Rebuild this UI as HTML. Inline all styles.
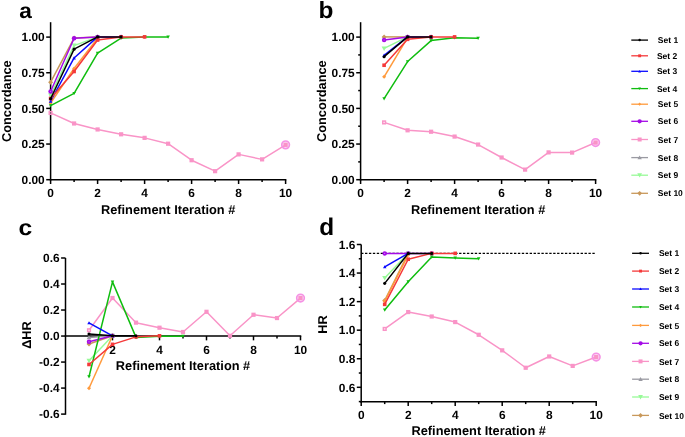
<!DOCTYPE html>
<html><head><meta charset="utf-8"><title>Refinement iterations</title>
<style>
html,body{margin:0;padding:0;background:#fff;}
body{width:685px;height:437px;overflow:hidden;}
svg{display:block;will-change:transform;font-family:"Liberation Sans",sans-serif;font-weight:bold;fill:#000;text-rendering:geometricPrecision;}
</style></head><body>
<svg width="685" height="437" viewBox="0 0 685 437">
<rect width="685" height="437" fill="#fff"/>
<line x1="50.60" y1="22.20" x2="50.60" y2="180.45" stroke="#000" stroke-width="1.5"/>
<line x1="49.85" y1="179.70" x2="286.35" y2="179.70" stroke="#000" stroke-width="1.5"/>
<line x1="46.20" y1="179.70" x2="50.60" y2="179.70" stroke="#000" stroke-width="1.5"/>
<text x="44.70" y="184.00" font-size="11.9" text-anchor="end" >0.00</text>
<line x1="46.20" y1="144.05" x2="50.60" y2="144.05" stroke="#000" stroke-width="1.5"/>
<text x="44.70" y="148.35" font-size="11.9" text-anchor="end" >0.25</text>
<line x1="46.20" y1="108.40" x2="50.60" y2="108.40" stroke="#000" stroke-width="1.5"/>
<text x="44.70" y="112.70" font-size="11.9" text-anchor="end" >0.50</text>
<line x1="46.20" y1="72.75" x2="50.60" y2="72.75" stroke="#000" stroke-width="1.5"/>
<text x="44.70" y="77.05" font-size="11.9" text-anchor="end" >0.75</text>
<line x1="46.20" y1="37.10" x2="50.60" y2="37.10" stroke="#000" stroke-width="1.5"/>
<text x="44.70" y="41.40" font-size="11.9" text-anchor="end" >1.00</text>
<line x1="50.60" y1="179.70" x2="50.60" y2="184.00" stroke="#000" stroke-width="1.5"/>
<text x="50.60" y="197.00" font-size="11.9" text-anchor="middle" >0</text>
<line x1="74.10" y1="179.70" x2="74.10" y2="182.10" stroke="#000" stroke-width="1.5"/>
<line x1="97.60" y1="179.70" x2="97.60" y2="184.00" stroke="#000" stroke-width="1.5"/>
<text x="97.60" y="197.00" font-size="11.9" text-anchor="middle" >2</text>
<line x1="121.10" y1="179.70" x2="121.10" y2="182.10" stroke="#000" stroke-width="1.5"/>
<line x1="144.60" y1="179.70" x2="144.60" y2="184.00" stroke="#000" stroke-width="1.5"/>
<text x="144.60" y="197.00" font-size="11.9" text-anchor="middle" >4</text>
<line x1="168.10" y1="179.70" x2="168.10" y2="182.10" stroke="#000" stroke-width="1.5"/>
<line x1="191.60" y1="179.70" x2="191.60" y2="184.00" stroke="#000" stroke-width="1.5"/>
<text x="191.60" y="197.00" font-size="11.9" text-anchor="middle" >6</text>
<line x1="215.10" y1="179.70" x2="215.10" y2="182.10" stroke="#000" stroke-width="1.5"/>
<line x1="238.60" y1="179.70" x2="238.60" y2="184.00" stroke="#000" stroke-width="1.5"/>
<text x="238.60" y="197.00" font-size="11.9" text-anchor="middle" >8</text>
<line x1="262.10" y1="179.70" x2="262.10" y2="182.10" stroke="#000" stroke-width="1.5"/>
<line x1="285.60" y1="179.70" x2="285.60" y2="184.00" stroke="#000" stroke-width="1.5"/>
<text x="285.60" y="197.00" font-size="11.9" text-anchor="middle" >10</text>
<polyline points="50.60,82.18 74.10,38.04 97.60,36.90" fill="none" stroke="#c8985a" stroke-width="1.5" stroke-linejoin="round"/><path d="M50.60 79.68L53.10 82.18L50.60 84.68L48.10 82.18Z" fill="#c8985a"/><path d="M74.10 35.54L76.60 38.04L74.10 40.54L71.60 38.04Z" fill="#c8985a"/><path d="M97.60 34.40L100.10 36.90L97.60 39.40L95.10 36.90Z" fill="#c8985a"/>
<polyline points="50.60,95.28 74.10,45.59 97.60,36.90" fill="none" stroke="#98fa98" stroke-width="1.5" stroke-linejoin="round"/><path d="M50.60 97.78L53.10 93.28L48.10 93.28Z" fill="#98fa98"/><path d="M74.10 48.09L76.60 43.59L71.60 43.59Z" fill="#98fa98"/><path d="M97.60 39.40L100.10 34.90L95.10 34.90Z" fill="#98fa98"/>
<polyline points="50.60,112.94 74.10,123.48 97.60,129.46 121.10,134.30 144.60,137.86 168.10,143.70 191.60,160.22 215.10,171.18 238.60,154.38 262.10,159.36 285.60,144.84" fill="none" stroke="#f994c7" stroke-width="1.5" stroke-linejoin="round"/><circle cx="285.60" cy="144.84" r="3.85" fill="#f592e4" fill-opacity="0.35" stroke="#f592e4" stroke-width="1.6"/><rect x="48.50" y="110.84" width="4.20" height="4.20" fill="#f994c7"/><rect x="50.00" y="112.34" width="1.2" height="1.2" fill="#444" fill-opacity="0.9"/><rect x="72.00" y="121.38" width="4.20" height="4.20" fill="#f994c7"/><rect x="95.50" y="127.36" width="4.20" height="4.20" fill="#f994c7"/><rect x="119.00" y="132.20" width="4.20" height="4.20" fill="#f994c7"/><rect x="142.50" y="135.76" width="4.20" height="4.20" fill="#f994c7"/><rect x="166.00" y="141.60" width="4.20" height="4.20" fill="#f994c7"/><rect x="189.50" y="158.12" width="4.20" height="4.20" fill="#f994c7"/><rect x="213.00" y="169.08" width="4.20" height="4.20" fill="#f994c7"/><rect x="236.50" y="152.28" width="4.20" height="4.20" fill="#f994c7"/><rect x="260.00" y="157.26" width="4.20" height="4.20" fill="#f994c7"/><rect x="283.50" y="142.74" width="4.20" height="4.20" fill="#f994c7"/>
<polyline points="50.60,91.44 74.10,38.32 97.60,36.90 121.10,36.90" fill="none" stroke="#a40ae6" stroke-width="1.5" stroke-linejoin="round"/><circle cx="50.60" cy="91.44" r="2.25" fill="#a40ae6"/><circle cx="50.60" cy="91.44" r="0.55" fill="#e0a8f8" fill-opacity="0.8"/><circle cx="74.10" cy="38.32" r="2.25" fill="#a40ae6"/><circle cx="97.60" cy="36.90" r="2.25" fill="#a40ae6"/><circle cx="121.10" cy="36.90" r="2.25" fill="#a40ae6"/>
<polyline points="50.60,102.97 74.10,68.51 97.60,38.32" fill="none" stroke="#ff9a3c" stroke-width="1.5" stroke-linejoin="round"/><path d="M50.60 100.97L52.60 102.97L50.60 104.97L48.60 102.97Z" fill="#ff9a3c"/><path d="M74.10 66.51L76.10 68.51L74.10 70.51L72.10 68.51Z" fill="#ff9a3c"/><path d="M97.60 36.32L99.60 38.32L97.60 40.32L95.60 38.32Z" fill="#ff9a3c"/>
<polyline points="50.60,105.61 74.10,93.29 97.60,53.13 121.10,38.04 144.60,36.90 168.10,36.90" fill="none" stroke="#0fbd0f" stroke-width="1.5" stroke-linejoin="round"/><path d="M50.60 107.36L52.35 104.21L48.85 104.21Z" fill="#0fbd0f"/><path d="M74.10 95.04L75.85 91.89L72.35 91.89Z" fill="#0fbd0f"/><path d="M97.60 54.88L99.35 51.73L95.85 51.73Z" fill="#0fbd0f"/><path d="M121.10 39.79L122.85 36.64L119.35 36.64Z" fill="#0fbd0f"/><path d="M144.60 38.65L146.35 35.50L142.85 35.50Z" fill="#0fbd0f"/><path d="M168.10 38.65L169.85 35.50L166.35 35.50Z" fill="#0fbd0f"/>
<polyline points="50.60,101.26 74.10,57.98 97.60,36.90" fill="none" stroke="#0a0aff" stroke-width="1.5" stroke-linejoin="round"/><path d="M50.60 99.51L52.35 102.66L48.85 102.66Z" fill="#0a0aff"/><path d="M74.10 56.23L75.85 59.38L72.35 59.38Z" fill="#0a0aff"/><path d="M97.60 35.15L99.35 38.30L95.85 38.30Z" fill="#0a0aff"/>
<polyline points="50.60,98.56 74.10,71.50 97.60,40.03 121.10,36.90 144.60,36.90" fill="none" stroke="#f5393a" stroke-width="1.5" stroke-linejoin="round"/><rect x="48.80" y="96.76" width="3.60" height="3.60" fill="#f5393a"/><rect x="72.30" y="69.70" width="3.60" height="3.60" fill="#f5393a"/><rect x="95.80" y="38.23" width="3.60" height="3.60" fill="#f5393a"/><rect x="119.30" y="35.10" width="3.60" height="3.60" fill="#f5393a"/><rect x="142.80" y="35.10" width="3.60" height="3.60" fill="#f5393a"/>
<polyline points="50.60,98.70 74.10,49.15 97.60,36.90 121.10,36.90" fill="none" stroke="#000000" stroke-width="1.5" stroke-linejoin="round"/><circle cx="50.60" cy="98.70" r="1.55" fill="#000000"/><circle cx="74.10" cy="49.15" r="1.55" fill="#000000"/><circle cx="97.60" cy="36.90" r="1.55" fill="#000000"/><circle cx="121.10" cy="36.90" r="1.55" fill="#000000"/>
<text x="168.10" y="213.60" font-size="12.8" text-anchor="middle" >Refinement Iteration #</text>
<text transform="translate(10.80 101.20) rotate(-90)" font-size="12.8" text-anchor="middle" >Concordance</text>
<text transform="translate(19.20 18.00) scale(1.03 0.98)" font-size="22" text-anchor="start">a</text>
<line x1="360.60" y1="22.20" x2="360.60" y2="180.45" stroke="#000" stroke-width="1.5"/>
<line x1="359.85" y1="179.70" x2="596.35" y2="179.70" stroke="#000" stroke-width="1.5"/>
<line x1="356.20" y1="179.70" x2="360.60" y2="179.70" stroke="#000" stroke-width="1.5"/>
<text x="354.70" y="184.00" font-size="11.9" text-anchor="end" >0.00</text>
<line x1="356.20" y1="144.05" x2="360.60" y2="144.05" stroke="#000" stroke-width="1.5"/>
<text x="354.70" y="148.35" font-size="11.9" text-anchor="end" >0.25</text>
<line x1="356.20" y1="108.40" x2="360.60" y2="108.40" stroke="#000" stroke-width="1.5"/>
<text x="354.70" y="112.70" font-size="11.9" text-anchor="end" >0.50</text>
<line x1="356.20" y1="72.75" x2="360.60" y2="72.75" stroke="#000" stroke-width="1.5"/>
<text x="354.70" y="77.05" font-size="11.9" text-anchor="end" >0.75</text>
<line x1="356.20" y1="37.10" x2="360.60" y2="37.10" stroke="#000" stroke-width="1.5"/>
<text x="354.70" y="41.40" font-size="11.9" text-anchor="end" >1.00</text>
<line x1="358.20" y1="161.88" x2="360.60" y2="161.88" stroke="#000" stroke-width="1.5"/>
<line x1="358.20" y1="126.22" x2="360.60" y2="126.22" stroke="#000" stroke-width="1.5"/>
<line x1="358.20" y1="90.57" x2="360.60" y2="90.57" stroke="#000" stroke-width="1.5"/>
<line x1="358.20" y1="54.92" x2="360.60" y2="54.92" stroke="#000" stroke-width="1.5"/>
<line x1="360.60" y1="179.70" x2="360.60" y2="184.00" stroke="#000" stroke-width="1.5"/>
<text x="360.60" y="197.00" font-size="11.9" text-anchor="middle" >0</text>
<line x1="384.10" y1="179.70" x2="384.10" y2="182.10" stroke="#000" stroke-width="1.5"/>
<line x1="407.60" y1="179.70" x2="407.60" y2="184.00" stroke="#000" stroke-width="1.5"/>
<text x="407.60" y="197.00" font-size="11.9" text-anchor="middle" >2</text>
<line x1="431.10" y1="179.70" x2="431.10" y2="182.10" stroke="#000" stroke-width="1.5"/>
<line x1="454.60" y1="179.70" x2="454.60" y2="184.00" stroke="#000" stroke-width="1.5"/>
<text x="454.60" y="197.00" font-size="11.9" text-anchor="middle" >4</text>
<line x1="478.10" y1="179.70" x2="478.10" y2="182.10" stroke="#000" stroke-width="1.5"/>
<line x1="501.60" y1="179.70" x2="501.60" y2="184.00" stroke="#000" stroke-width="1.5"/>
<text x="501.60" y="197.00" font-size="11.9" text-anchor="middle" >6</text>
<line x1="525.10" y1="179.70" x2="525.10" y2="182.10" stroke="#000" stroke-width="1.5"/>
<line x1="548.60" y1="179.70" x2="548.60" y2="184.00" stroke="#000" stroke-width="1.5"/>
<text x="548.60" y="197.00" font-size="11.9" text-anchor="middle" >8</text>
<line x1="572.10" y1="179.70" x2="572.10" y2="182.10" stroke="#000" stroke-width="1.5"/>
<line x1="595.60" y1="179.70" x2="595.60" y2="184.00" stroke="#000" stroke-width="1.5"/>
<text x="595.60" y="197.00" font-size="11.9" text-anchor="middle" >10</text>
<polyline points="384.10,36.90 407.60,36.90" fill="none" stroke="#c8985a" stroke-width="1.5" stroke-linejoin="round"/><path d="M384.10 34.40L386.60 36.90L384.10 39.40L381.60 36.90Z" fill="#c8985a"/><path d="M407.60 34.40L410.10 36.90L407.60 39.40L405.10 36.90Z" fill="#c8985a"/>
<polyline points="384.10,48.43 407.60,36.90" fill="none" stroke="#98fa98" stroke-width="1.5" stroke-linejoin="round"/><path d="M384.10 50.93L386.60 46.43L381.60 46.43Z" fill="#98fa98"/><path d="M407.60 39.40L410.10 34.90L405.10 34.90Z" fill="#98fa98"/>
<polyline points="384.10,122.41 407.60,130.31 431.10,131.74 454.60,136.58 478.10,144.55 501.60,157.51 525.10,169.62 548.60,152.39 572.10,152.60 595.60,142.56" fill="none" stroke="#f994c7" stroke-width="1.5" stroke-linejoin="round"/><circle cx="595.60" cy="142.56" r="3.85" fill="#f592e4" fill-opacity="0.35" stroke="#f592e4" stroke-width="1.6"/><rect x="382.00" y="120.31" width="4.20" height="4.20" fill="#f994c7"/><rect x="383.50" y="121.81" width="1.2" height="1.2" fill="#fff" fill-opacity="0.9"/><rect x="405.50" y="128.21" width="4.20" height="4.20" fill="#f994c7"/><rect x="429.00" y="129.64" width="4.20" height="4.20" fill="#f994c7"/><rect x="452.50" y="134.48" width="4.20" height="4.20" fill="#f994c7"/><rect x="476.00" y="142.45" width="4.20" height="4.20" fill="#f994c7"/><rect x="499.50" y="155.41" width="4.20" height="4.20" fill="#f994c7"/><rect x="523.00" y="167.52" width="4.20" height="4.20" fill="#f994c7"/><rect x="546.50" y="150.29" width="4.20" height="4.20" fill="#f994c7"/><rect x="570.00" y="150.50" width="4.20" height="4.20" fill="#f994c7"/><rect x="593.50" y="140.46" width="4.20" height="4.20" fill="#f994c7"/>
<polyline points="384.10,40.03 407.60,36.90 431.10,36.90" fill="none" stroke="#a40ae6" stroke-width="1.5" stroke-linejoin="round"/><circle cx="384.10" cy="40.03" r="2.25" fill="#a40ae6"/><circle cx="384.10" cy="40.03" r="0.55" fill="#e0a8f8" fill-opacity="0.8"/><circle cx="407.60" cy="36.90" r="2.25" fill="#a40ae6"/><circle cx="431.10" cy="36.90" r="2.25" fill="#a40ae6"/>
<polyline points="384.10,76.77 407.60,37.61" fill="none" stroke="#ff9a3c" stroke-width="1.5" stroke-linejoin="round"/><path d="M384.10 74.77L386.10 76.77L384.10 78.77L382.10 76.77Z" fill="#ff9a3c"/><path d="M407.60 35.61L409.60 37.61L407.60 39.61L405.60 37.61Z" fill="#ff9a3c"/>
<polyline points="384.10,98.70 407.60,61.54 431.10,40.60 454.60,37.75 478.10,38.18" fill="none" stroke="#0fbd0f" stroke-width="1.5" stroke-linejoin="round"/><path d="M384.10 100.45L385.85 97.30L382.35 97.30Z" fill="#0fbd0f"/><path d="M407.60 63.29L409.35 60.14L405.85 60.14Z" fill="#0fbd0f"/><path d="M431.10 42.35L432.85 39.20L429.35 39.20Z" fill="#0fbd0f"/><path d="M454.60 39.50L456.35 36.35L452.85 36.35Z" fill="#0fbd0f"/><path d="M478.10 39.93L479.85 36.78L476.35 36.78Z" fill="#0fbd0f"/>
<polyline points="384.10,55.27 407.60,36.90" fill="none" stroke="#0a0aff" stroke-width="1.5" stroke-linejoin="round"/><path d="M384.10 53.52L385.85 56.67L382.35 56.67Z" fill="#0a0aff"/><path d="M407.60 35.15L409.35 38.30L405.85 38.30Z" fill="#0a0aff"/>
<polyline points="384.10,65.24 407.60,39.32 431.10,36.90 454.60,36.90" fill="none" stroke="#f5393a" stroke-width="1.5" stroke-linejoin="round"/><rect x="382.30" y="63.44" width="3.60" height="3.60" fill="#f5393a"/><rect x="405.80" y="37.52" width="3.60" height="3.60" fill="#f5393a"/><rect x="429.30" y="35.10" width="3.60" height="3.60" fill="#f5393a"/><rect x="452.80" y="35.10" width="3.60" height="3.60" fill="#f5393a"/>
<polyline points="384.10,56.69 407.60,36.90 431.10,36.90" fill="none" stroke="#000000" stroke-width="1.5" stroke-linejoin="round"/><circle cx="384.10" cy="56.69" r="1.55" fill="#000000"/><circle cx="407.60" cy="36.90" r="1.55" fill="#000000"/><circle cx="431.10" cy="36.90" r="1.55" fill="#000000"/>
<text x="478.10" y="213.60" font-size="12.8" text-anchor="middle" >Refinement Iteration #</text>
<text transform="translate(326.10 101.20) rotate(-90)" font-size="12.8" text-anchor="middle" >Concordance</text>
<text transform="translate(318.40 18.00) scale(1.11 1.064)" font-size="22" text-anchor="start">b</text>
<line x1="65.50" y1="258.00" x2="65.50" y2="414.71" stroke="#000" stroke-width="1.5"/>
<line x1="64.75" y1="336.05" x2="301.25" y2="336.05" stroke="#000" stroke-width="1.5"/>
<line x1="61.10" y1="414.11" x2="65.50" y2="414.11" stroke="#000" stroke-width="1.5"/>
<text x="59.60" y="418.41" font-size="11.9" text-anchor="end" >-0.6</text>
<line x1="61.10" y1="388.09" x2="65.50" y2="388.09" stroke="#000" stroke-width="1.5"/>
<text x="59.60" y="392.39" font-size="11.9" text-anchor="end" >-0.4</text>
<line x1="61.10" y1="362.07" x2="65.50" y2="362.07" stroke="#000" stroke-width="1.5"/>
<text x="59.60" y="366.37" font-size="11.9" text-anchor="end" >-0.2</text>
<line x1="61.10" y1="336.05" x2="65.50" y2="336.05" stroke="#000" stroke-width="1.5"/>
<text x="59.60" y="340.35" font-size="11.9" text-anchor="end" >0.0</text>
<line x1="61.10" y1="310.03" x2="65.50" y2="310.03" stroke="#000" stroke-width="1.5"/>
<text x="59.60" y="314.33" font-size="11.9" text-anchor="end" >0.2</text>
<line x1="61.10" y1="284.01" x2="65.50" y2="284.01" stroke="#000" stroke-width="1.5"/>
<text x="59.60" y="288.31" font-size="11.9" text-anchor="end" >0.4</text>
<line x1="61.10" y1="257.99" x2="65.50" y2="257.99" stroke="#000" stroke-width="1.5"/>
<text x="59.60" y="262.29" font-size="11.9" text-anchor="end" >0.6</text>
<line x1="89.00" y1="336.05" x2="89.00" y2="338.45" stroke="#000" stroke-width="1.5"/>
<line x1="112.50" y1="336.05" x2="112.50" y2="340.35" stroke="#000" stroke-width="1.5"/>
<text x="112.50" y="354.00" font-size="11.9" text-anchor="middle" >2</text>
<line x1="136.00" y1="336.05" x2="136.00" y2="338.45" stroke="#000" stroke-width="1.5"/>
<line x1="159.50" y1="336.05" x2="159.50" y2="340.35" stroke="#000" stroke-width="1.5"/>
<text x="159.50" y="354.00" font-size="11.9" text-anchor="middle" >4</text>
<line x1="183.00" y1="336.05" x2="183.00" y2="338.45" stroke="#000" stroke-width="1.5"/>
<line x1="206.50" y1="336.05" x2="206.50" y2="340.35" stroke="#000" stroke-width="1.5"/>
<text x="206.50" y="354.00" font-size="11.9" text-anchor="middle" >6</text>
<line x1="230.00" y1="336.05" x2="230.00" y2="338.45" stroke="#000" stroke-width="1.5"/>
<line x1="253.50" y1="336.05" x2="253.50" y2="340.35" stroke="#000" stroke-width="1.5"/>
<text x="253.50" y="354.00" font-size="11.9" text-anchor="middle" >8</text>
<line x1="277.00" y1="336.05" x2="277.00" y2="338.45" stroke="#000" stroke-width="1.5"/>
<line x1="300.50" y1="336.05" x2="300.50" y2="340.35" stroke="#000" stroke-width="1.5"/>
<text x="300.50" y="354.00" font-size="11.9" text-anchor="middle" >10</text>
<polyline points="89.00,343.95 112.50,335.80" fill="none" stroke="#c8985a" stroke-width="1.5" stroke-linejoin="round"/><path d="M89.00 341.45L91.50 343.95L89.00 346.45L86.50 343.95Z" fill="#c8985a"/><path d="M112.50 333.30L115.00 335.80L112.50 338.30L110.00 335.80Z" fill="#c8985a"/>
<polyline points="89.00,360.79 112.50,335.80" fill="none" stroke="#98fa98" stroke-width="1.5" stroke-linejoin="round"/><path d="M89.00 363.29L91.50 358.79L86.50 358.79Z" fill="#98fa98"/><path d="M112.50 338.30L115.00 333.80L110.00 333.80Z" fill="#98fa98"/>
<polyline points="89.00,337.38 112.50,335.80" fill="none" stroke="#9a9aa2" stroke-width="1.5" stroke-linejoin="round"/><path d="M89.00 335.08L91.30 339.22L86.70 339.22Z" fill="#9a9aa2"/><path d="M112.50 333.50L114.80 337.64L110.20 337.64Z" fill="#9a9aa2"/>
<polyline points="89.00,330.28 112.50,297.99 136.00,322.65 159.50,327.70 183.00,331.99 206.50,311.80 230.00,335.80 253.50,314.76 277.00,318.05 300.50,298.06" fill="none" stroke="#f994c7" stroke-width="1.5" stroke-linejoin="round"/><circle cx="300.50" cy="298.06" r="3.85" fill="#f592e4" fill-opacity="0.35" stroke="#f592e4" stroke-width="1.6"/><rect x="86.90" y="328.18" width="4.20" height="4.20" fill="#f994c7"/><rect x="88.40" y="329.68" width="1.2" height="1.2" fill="#fff" fill-opacity="0.9"/><rect x="110.40" y="295.89" width="4.20" height="4.20" fill="#f994c7"/><rect x="133.90" y="320.55" width="4.20" height="4.20" fill="#f994c7"/><rect x="157.40" y="325.60" width="4.20" height="4.20" fill="#f994c7"/><rect x="180.90" y="329.89" width="4.20" height="4.20" fill="#f994c7"/><rect x="204.40" y="309.70" width="4.20" height="4.20" fill="#f994c7"/><rect x="227.90" y="333.70" width="4.20" height="4.20" fill="#f994c7"/><rect x="251.40" y="312.66" width="4.20" height="4.20" fill="#f994c7"/><rect x="274.90" y="315.95" width="4.20" height="4.20" fill="#f994c7"/><rect x="298.40" y="295.96" width="4.20" height="4.20" fill="#f994c7"/>
<polyline points="89.00,341.85 112.50,335.80" fill="none" stroke="#a40ae6" stroke-width="1.5" stroke-linejoin="round"/><circle cx="89.00" cy="341.85" r="2.25" fill="#a40ae6"/><circle cx="89.00" cy="341.85" r="0.55" fill="#e0a8f8" fill-opacity="0.8"/><circle cx="112.50" cy="335.80" r="2.25" fill="#a40ae6"/>
<polyline points="89.00,388.27 112.50,335.80" fill="none" stroke="#ff9a3c" stroke-width="1.5" stroke-linejoin="round"/><path d="M89.00 386.27L91.00 388.27L89.00 390.27L87.00 388.27Z" fill="#ff9a3c"/><path d="M112.50 333.80L114.50 335.80L112.50 337.80L110.50 335.80Z" fill="#ff9a3c"/>
<polyline points="89.00,376.70 112.50,281.88 136.00,337.38 159.50,336.33 183.00,336.19" fill="none" stroke="#0fbd0f" stroke-width="1.5" stroke-linejoin="round"/><path d="M89.00 378.45L90.75 375.30L87.25 375.30Z" fill="#0fbd0f"/><path d="M112.50 283.63L114.25 280.49L110.75 280.49Z" fill="#0fbd0f"/><path d="M136.00 339.13L137.75 335.98L134.25 335.98Z" fill="#0fbd0f"/><path d="M159.50 338.08L161.25 334.93L157.75 334.93Z" fill="#0fbd0f"/><path d="M183.00 337.94L184.75 334.79L181.25 334.79Z" fill="#0fbd0f"/>
<polyline points="89.00,322.91 112.50,335.80" fill="none" stroke="#0a0aff" stroke-width="1.5" stroke-linejoin="round"/><path d="M89.00 321.16L90.75 324.31L87.25 324.31Z" fill="#0a0aff"/><path d="M112.50 334.05L114.25 337.20L110.75 337.20Z" fill="#0a0aff"/>
<polyline points="89.00,364.47 112.50,344.35 136.00,336.85 159.50,335.80" fill="none" stroke="#f5393a" stroke-width="1.5" stroke-linejoin="round"/><rect x="87.20" y="362.67" width="3.60" height="3.60" fill="#f5393a"/><rect x="110.70" y="342.55" width="3.60" height="3.60" fill="#f5393a"/><rect x="134.20" y="335.05" width="3.60" height="3.60" fill="#f5393a"/><rect x="157.70" y="334.00" width="3.60" height="3.60" fill="#f5393a"/>
<polyline points="89.00,333.96 112.50,335.80 136.00,335.80" fill="none" stroke="#000000" stroke-width="1.5" stroke-linejoin="round"/><circle cx="89.00" cy="333.96" r="1.55" fill="#000000"/><circle cx="112.50" cy="335.80" r="1.55" fill="#000000"/><circle cx="136.00" cy="335.80" r="1.55" fill="#000000"/>
<text x="183.00" y="370.00" font-size="12.8" text-anchor="middle" >Refinement Iteration #</text>
<text transform="translate(31.00 335.00) rotate(-90)" font-size="12.8" text-anchor="middle" >ΔHR</text>
<text transform="translate(18.50 235.00) scale(1.12 1.0)" font-size="22" text-anchor="start">c</text>
<line x1="361.20" y1="253.38" x2="596.20" y2="253.38" stroke="#000" stroke-width="1.25" stroke-dasharray="2.35 1.57" stroke-dashoffset="0.1"/>
<line x1="361.20" y1="244.50" x2="361.20" y2="402.45" stroke="#000" stroke-width="1.5"/>
<line x1="360.45" y1="401.70" x2="596.95" y2="401.70" stroke="#000" stroke-width="1.5"/>
<line x1="356.80" y1="387.30" x2="361.20" y2="387.30" stroke="#000" stroke-width="1.5"/>
<text x="355.30" y="391.60" font-size="11.9" text-anchor="end" >0.6</text>
<line x1="356.80" y1="358.74" x2="361.20" y2="358.74" stroke="#000" stroke-width="1.5"/>
<text x="355.30" y="363.04" font-size="11.9" text-anchor="end" >0.8</text>
<line x1="356.80" y1="330.18" x2="361.20" y2="330.18" stroke="#000" stroke-width="1.5"/>
<text x="355.30" y="334.48" font-size="11.9" text-anchor="end" >1.0</text>
<line x1="356.80" y1="301.62" x2="361.20" y2="301.62" stroke="#000" stroke-width="1.5"/>
<text x="355.30" y="305.92" font-size="11.9" text-anchor="end" >1.2</text>
<line x1="356.80" y1="273.06" x2="361.20" y2="273.06" stroke="#000" stroke-width="1.5"/>
<text x="355.30" y="277.36" font-size="11.9" text-anchor="end" >1.4</text>
<line x1="356.80" y1="244.50" x2="361.20" y2="244.50" stroke="#000" stroke-width="1.5"/>
<text x="355.30" y="248.80" font-size="11.9" text-anchor="end" >1.6</text>
<line x1="358.80" y1="401.58" x2="361.20" y2="401.58" stroke="#000" stroke-width="1.5"/>
<line x1="358.80" y1="373.02" x2="361.20" y2="373.02" stroke="#000" stroke-width="1.5"/>
<line x1="358.80" y1="344.46" x2="361.20" y2="344.46" stroke="#000" stroke-width="1.5"/>
<line x1="358.80" y1="315.90" x2="361.20" y2="315.90" stroke="#000" stroke-width="1.5"/>
<line x1="358.80" y1="287.34" x2="361.20" y2="287.34" stroke="#000" stroke-width="1.5"/>
<line x1="358.80" y1="258.78" x2="361.20" y2="258.78" stroke="#000" stroke-width="1.5"/>
<line x1="361.20" y1="401.70" x2="361.20" y2="406.00" stroke="#000" stroke-width="1.5"/>
<text x="361.20" y="419.00" font-size="11.9" text-anchor="middle" >0</text>
<line x1="384.70" y1="401.70" x2="384.70" y2="404.10" stroke="#000" stroke-width="1.5"/>
<line x1="408.20" y1="401.70" x2="408.20" y2="406.00" stroke="#000" stroke-width="1.5"/>
<text x="408.20" y="419.00" font-size="11.9" text-anchor="middle" >2</text>
<line x1="431.70" y1="401.70" x2="431.70" y2="404.10" stroke="#000" stroke-width="1.5"/>
<line x1="455.20" y1="401.70" x2="455.20" y2="406.00" stroke="#000" stroke-width="1.5"/>
<text x="455.20" y="419.00" font-size="11.9" text-anchor="middle" >4</text>
<line x1="478.70" y1="401.70" x2="478.70" y2="404.10" stroke="#000" stroke-width="1.5"/>
<line x1="502.20" y1="401.70" x2="502.20" y2="406.00" stroke="#000" stroke-width="1.5"/>
<text x="502.20" y="419.00" font-size="11.9" text-anchor="middle" >6</text>
<line x1="525.70" y1="401.70" x2="525.70" y2="404.10" stroke="#000" stroke-width="1.5"/>
<line x1="549.20" y1="401.70" x2="549.20" y2="406.00" stroke="#000" stroke-width="1.5"/>
<text x="549.20" y="419.00" font-size="11.9" text-anchor="middle" >8</text>
<line x1="572.70" y1="401.70" x2="572.70" y2="404.10" stroke="#000" stroke-width="1.5"/>
<line x1="596.20" y1="401.70" x2="596.20" y2="406.00" stroke="#000" stroke-width="1.5"/>
<text x="596.20" y="419.00" font-size="11.9" text-anchor="middle" >10</text>
<polyline points="384.70,300.51 408.20,253.38" fill="none" stroke="#c8985a" stroke-width="1.5" stroke-linejoin="round"/><path d="M384.70 298.01L387.20 300.51L384.70 303.01L382.20 300.51Z" fill="#c8985a"/><path d="M408.20 250.88L410.70 253.38L408.20 255.88L405.70 253.38Z" fill="#c8985a"/>
<polyline points="384.70,277.94 408.20,253.38" fill="none" stroke="#98fa98" stroke-width="1.5" stroke-linejoin="round"/><path d="M384.70 280.44L387.20 275.94L382.20 275.94Z" fill="#98fa98"/><path d="M408.20 255.88L410.70 251.38L405.70 251.38Z" fill="#98fa98"/>
<polyline points="384.70,328.92 408.20,312.07 431.70,316.50 455.20,322.07 478.70,334.78 502.20,350.34 525.70,367.76 549.20,356.48 572.70,365.91 596.20,357.05" fill="none" stroke="#f994c7" stroke-width="1.5" stroke-linejoin="round"/><circle cx="596.20" cy="357.05" r="3.85" fill="#f592e4" fill-opacity="0.35" stroke="#f592e4" stroke-width="1.6"/><rect x="382.60" y="326.82" width="4.20" height="4.20" fill="#f994c7"/><rect x="384.10" y="328.32" width="1.2" height="1.2" fill="#fff" fill-opacity="0.9"/><rect x="406.10" y="309.97" width="4.20" height="4.20" fill="#f994c7"/><rect x="429.60" y="314.40" width="4.20" height="4.20" fill="#f994c7"/><rect x="453.10" y="319.97" width="4.20" height="4.20" fill="#f994c7"/><rect x="476.60" y="332.68" width="4.20" height="4.20" fill="#f994c7"/><rect x="500.10" y="348.24" width="4.20" height="4.20" fill="#f994c7"/><rect x="523.60" y="365.66" width="4.20" height="4.20" fill="#f994c7"/><rect x="547.10" y="354.38" width="4.20" height="4.20" fill="#f994c7"/><rect x="570.60" y="363.81" width="4.20" height="4.20" fill="#f994c7"/><rect x="594.10" y="354.95" width="4.20" height="4.20" fill="#f994c7"/>
<polyline points="384.70,253.38 408.20,253.38 431.70,253.38" fill="none" stroke="#a40ae6" stroke-width="1.5" stroke-linejoin="round"/><circle cx="384.70" cy="253.38" r="2.25" fill="#a40ae6"/><circle cx="384.70" cy="253.38" r="0.55" fill="#e0a8f8" fill-opacity="0.8"/><circle cx="408.20" cy="253.38" r="2.25" fill="#a40ae6"/><circle cx="431.70" cy="253.38" r="2.25" fill="#a40ae6"/>
<polyline points="384.70,301.22 408.20,254.81" fill="none" stroke="#ff9a3c" stroke-width="1.5" stroke-linejoin="round"/><path d="M384.70 299.22L386.70 301.22L384.70 303.22L382.70 301.22Z" fill="#ff9a3c"/><path d="M408.20 252.81L410.20 254.81L408.20 256.81L406.20 254.81Z" fill="#ff9a3c"/>
<polyline points="384.70,309.93 408.20,281.66 431.70,256.95 455.20,257.95 478.70,258.67" fill="none" stroke="#0fbd0f" stroke-width="1.5" stroke-linejoin="round"/><path d="M384.70 311.68L386.45 308.53L382.95 308.53Z" fill="#0fbd0f"/><path d="M408.20 283.41L409.95 280.26L406.45 280.26Z" fill="#0fbd0f"/><path d="M431.70 258.70L433.45 255.55L429.95 255.55Z" fill="#0fbd0f"/><path d="M455.20 259.70L456.95 256.55L453.45 256.55Z" fill="#0fbd0f"/><path d="M478.70 260.42L480.45 257.27L476.95 257.27Z" fill="#0fbd0f"/>
<polyline points="384.70,266.95 408.20,253.38" fill="none" stroke="#0a0aff" stroke-width="1.5" stroke-linejoin="round"/><path d="M384.70 265.20L386.45 268.35L382.95 268.35Z" fill="#0a0aff"/><path d="M408.20 251.63L409.95 254.78L406.45 254.78Z" fill="#0a0aff"/>
<polyline points="384.70,304.36 408.20,259.24 431.70,253.38 455.20,253.38" fill="none" stroke="#f5393a" stroke-width="1.5" stroke-linejoin="round"/><rect x="382.90" y="302.56" width="3.60" height="3.60" fill="#f5393a"/><rect x="406.40" y="257.44" width="3.60" height="3.60" fill="#f5393a"/><rect x="429.90" y="251.58" width="3.60" height="3.60" fill="#f5393a"/><rect x="453.40" y="251.58" width="3.60" height="3.60" fill="#f5393a"/>
<polyline points="384.70,283.37 408.20,253.38 431.70,253.38" fill="none" stroke="#000000" stroke-width="1.5" stroke-linejoin="round"/><circle cx="384.70" cy="283.37" r="1.55" fill="#000000"/><circle cx="408.20" cy="253.38" r="1.55" fill="#000000"/><circle cx="431.70" cy="253.38" r="1.55" fill="#000000"/>
<text x="478.70" y="435.00" font-size="12.8" text-anchor="middle" >Refinement Iteration #</text>
<text transform="translate(327.00 324.50) rotate(-90)" font-size="12.8" text-anchor="middle" >HR</text>
<text transform="translate(319.35 235.30) scale(1.11 1.093)" font-size="22" text-anchor="start">d</text>
<line x1="631.3" y1="40.10" x2="648.0" y2="40.10" stroke="#000000" stroke-width="1.3"/>
<circle cx="639.65" cy="40.10" r="1.24" fill="#000000"/>
<text x="657.80" y="43.20" font-size="8.5" text-anchor="start" >Set 1</text>
<line x1="631.3" y1="55.80" x2="648.0" y2="55.80" stroke="#f5393a" stroke-width="1.3"/>
<rect x="638.21" y="54.36" width="2.88" height="2.88" fill="#f5393a"/>
<text x="656.90" y="58.90" font-size="8.5" text-anchor="start" >Set 2</text>
<line x1="631.3" y1="71.30" x2="648.0" y2="71.30" stroke="#0a0aff" stroke-width="1.3"/>
<path d="M639.65 69.90L641.05 72.42L638.25 72.42Z" fill="#0a0aff"/>
<text x="656.90" y="74.40" font-size="8.5" text-anchor="start" >Set 3</text>
<line x1="631.3" y1="88.60" x2="648.0" y2="88.60" stroke="#0fbd0f" stroke-width="1.3"/>
<path d="M639.65 90.00L641.05 87.48L638.25 87.48Z" fill="#0fbd0f"/>
<text x="656.90" y="91.70" font-size="8.5" text-anchor="start" >Set 4</text>
<line x1="631.3" y1="104.20" x2="648.0" y2="104.20" stroke="#ff9a3c" stroke-width="1.3"/>
<path d="M639.65 102.60L641.25 104.20L639.65 105.80L638.05 104.20Z" fill="#ff9a3c"/>
<text x="657.80" y="107.30" font-size="8.5" text-anchor="start" >Set 5</text>
<line x1="631.3" y1="121.30" x2="648.0" y2="121.30" stroke="#a40ae6" stroke-width="1.3"/>
<circle cx="639.65" cy="121.30" r="2.14" fill="#a40ae6"/>
<text x="657.80" y="124.40" font-size="8.5" text-anchor="start" >Set 6</text>
<line x1="631.3" y1="139.50" x2="648.0" y2="139.50" stroke="#f994c7" stroke-width="1.3"/>
<rect x="637.65" y="137.50" width="3.99" height="3.99" fill="#f994c7"/>
<text x="657.80" y="142.60" font-size="8.5" text-anchor="start" >Set 7</text>
<line x1="631.3" y1="157.60" x2="648.0" y2="157.60" stroke="#9a9aa2" stroke-width="1.3"/>
<path d="M639.65 155.41L641.83 159.35L637.47 159.35Z" fill="#9a9aa2"/>
<text x="657.80" y="160.70" font-size="8.5" text-anchor="start" >Set 8</text>
<line x1="631.3" y1="175.20" x2="648.0" y2="175.20" stroke="#98fa98" stroke-width="1.3"/>
<path d="M639.65 177.57L642.02 173.30L637.27 173.30Z" fill="#98fa98"/>
<text x="657.80" y="178.30" font-size="8.5" text-anchor="start" >Set 9</text>
<line x1="631.3" y1="193.30" x2="648.0" y2="193.30" stroke="#c8985a" stroke-width="1.3"/>
<path d="M639.65 190.93L642.02 193.30L639.65 195.68L637.27 193.30Z" fill="#c8985a"/>
<text x="657.80" y="196.40" font-size="8.5" text-anchor="start" >Set 10</text>
<line x1="632.1" y1="253.30" x2="649.0" y2="253.30" stroke="#000000" stroke-width="1.3"/>
<circle cx="640.55" cy="253.30" r="1.24" fill="#000000"/>
<text x="658.90" y="256.40" font-size="8.5" text-anchor="start" >Set 1</text>
<line x1="632.1" y1="271.10" x2="649.0" y2="271.10" stroke="#f5393a" stroke-width="1.3"/>
<rect x="639.11" y="269.66" width="2.88" height="2.88" fill="#f5393a"/>
<text x="658.90" y="274.20" font-size="8.5" text-anchor="start" >Set 2</text>
<line x1="632.1" y1="289.00" x2="649.0" y2="289.00" stroke="#0a0aff" stroke-width="1.3"/>
<path d="M640.55 287.60L641.95 290.12L639.15 290.12Z" fill="#0a0aff"/>
<text x="658.90" y="292.10" font-size="8.5" text-anchor="start" >Set 3</text>
<line x1="632.1" y1="307.00" x2="649.0" y2="307.00" stroke="#0fbd0f" stroke-width="1.3"/>
<path d="M640.55 308.40L641.95 305.88L639.15 305.88Z" fill="#0fbd0f"/>
<text x="658.90" y="310.10" font-size="8.5" text-anchor="start" >Set 4</text>
<line x1="632.1" y1="325.40" x2="649.0" y2="325.40" stroke="#ff9a3c" stroke-width="1.3"/>
<path d="M640.55 323.80L642.15 325.40L640.55 327.00L638.95 325.40Z" fill="#ff9a3c"/>
<text x="658.90" y="328.50" font-size="8.5" text-anchor="start" >Set 5</text>
<line x1="632.1" y1="343.30" x2="649.0" y2="343.30" stroke="#a40ae6" stroke-width="1.3"/>
<circle cx="640.55" cy="343.30" r="2.14" fill="#a40ae6"/>
<text x="658.90" y="346.40" font-size="8.5" text-anchor="start" >Set 6</text>
<line x1="632.1" y1="361.40" x2="649.0" y2="361.40" stroke="#f994c7" stroke-width="1.3"/>
<rect x="638.55" y="359.40" width="3.99" height="3.99" fill="#f994c7"/>
<text x="658.90" y="364.50" font-size="8.5" text-anchor="start" >Set 7</text>
<line x1="632.1" y1="379.20" x2="649.0" y2="379.20" stroke="#9a9aa2" stroke-width="1.3"/>
<path d="M640.55 377.01L642.73 380.95L638.37 380.95Z" fill="#9a9aa2"/>
<text x="658.90" y="382.30" font-size="8.5" text-anchor="start" >Set 8</text>
<line x1="632.1" y1="397.00" x2="649.0" y2="397.00" stroke="#98fa98" stroke-width="1.3"/>
<path d="M640.55 399.38L642.92 395.10L638.17 395.10Z" fill="#98fa98"/>
<text x="658.90" y="400.10" font-size="8.5" text-anchor="start" >Set 9</text>
<line x1="632.1" y1="415.40" x2="649.0" y2="415.40" stroke="#c8985a" stroke-width="1.3"/>
<path d="M640.55 413.02L642.92 415.40L640.55 417.77L638.17 415.40Z" fill="#c8985a"/>
<text x="658.90" y="418.50" font-size="8.5" text-anchor="start" >Set 10</text>
</svg>
</body></html>
